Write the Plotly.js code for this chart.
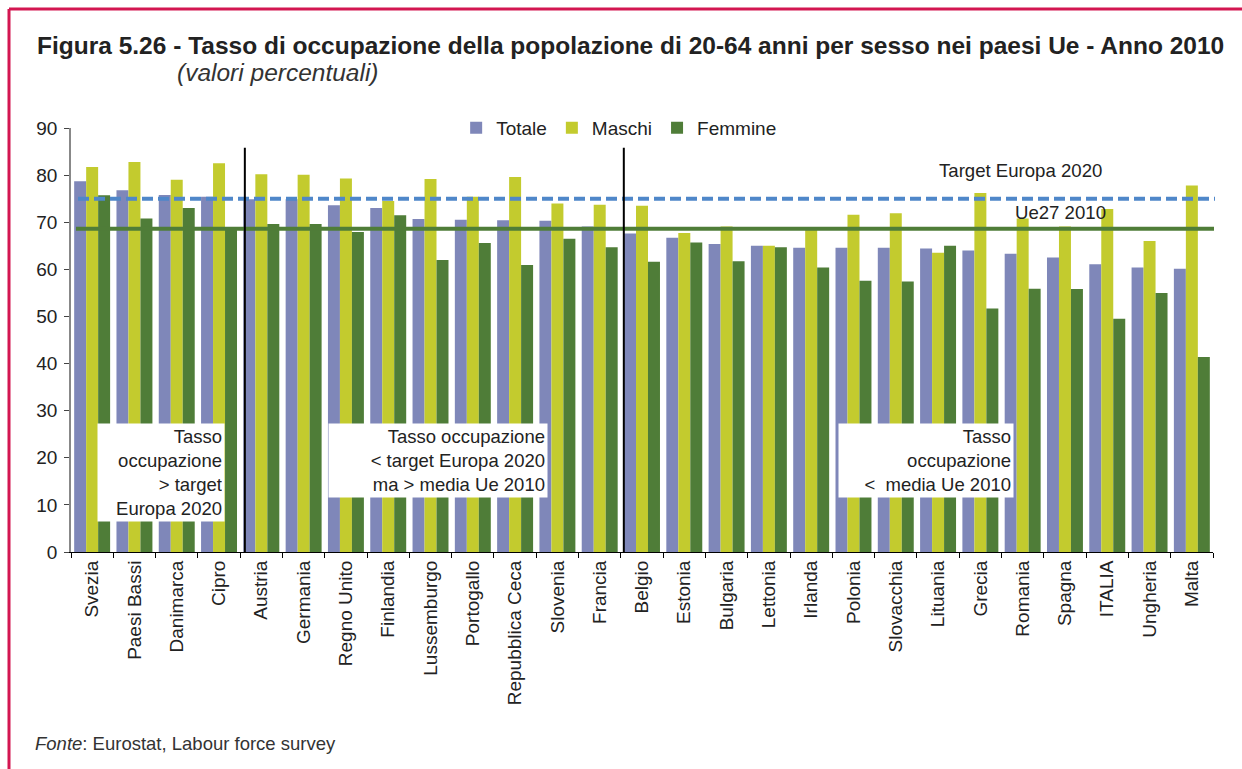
<!DOCTYPE html>
<html>
<head>
<meta charset="utf-8">
<script src="https://cdn.plot.ly/plotly-3.0.1.min.js"></script>
<style>
  html, body { margin: 0; padding: 0; background: #fff; }
  #chart { width: 1242px; height: 769px; }
</style>
</head>
<body>
<div id="chart"></div>
<script>
const countries = ['Svezia','Paesi Bassi','Danimarca','Cipro','Austria','Germania','Regno Unito','Finlandia','Lussemburgo','Portogallo','Repubblica Ceca','Slovenia','Francia','Belgio','Estonia','Bulgaria','Lettonia','Irlanda','Polonia','Slovacchia','Lituania','Grecia','Romania','Spagna','ITALIA','Ungheria','Malta'];
const totale  = [78.7, 76.8, 75.8, 75.4, 74.9, 74.9, 73.6, 73.0, 70.7, 70.5, 70.4, 70.3, 69.1, 67.6, 66.7, 65.4, 65.0, 64.6, 64.6, 64.6, 64.4, 64.0, 63.3, 62.5, 61.1, 60.4, 60.1];
const maschi  = [81.7, 82.8, 79.0, 82.5, 80.2, 80.1, 79.3, 74.5, 79.2, 75.4, 79.6, 74.0, 73.7, 73.5, 67.7, 69.1, 65.0, 69.0, 71.6, 71.9, 63.5, 76.2, 70.8, 69.1, 72.8, 66.0, 77.8];
const femmine = [75.7, 70.8, 73.0, 68.8, 69.6, 69.6, 67.9, 71.5, 62.0, 65.6, 60.9, 66.5, 64.7, 61.6, 65.7, 61.7, 64.7, 60.4, 57.6, 57.4, 65.0, 51.7, 55.9, 55.8, 49.5, 55.0, 41.4];
const seriesNames = ['Totale', 'Maschi', 'Femmine'];
const targetEuropa2020 = 75;
const ue27_2010 = 68.6;

const FONT = 'Liberation Sans, Arial, sans-serif';
const colors = ['#7f87b9', '#c3cb2e', '#4f7d38'];

const traces = [totale, maschi, femmine].map((vals, i) => ({
  type: 'bar',
  name: seriesNames[i],
  x: countries,
  y: vals,
  marker: { color: colors[i], line: { width: 0 } }
}));

// pixel helpers for paper coordinates (plot area: x 71..1213, y 128..552)
const px = v => (v - 71) / 1142;
const py = v => (552 - v) / 424;

const layout = {
  width: 1242,
  height: 769,
  margin: { l: 71, r: 29, t: 128, b: 217 },
  paper_bgcolor: '#ffffff',
  plot_bgcolor: '#ffffff',
  font: { family: FONT, size: 19, color: '#222' },
  barmode: 'group',
  bargap: 0.15,
  bargroupgap: 0,
  showlegend: true,
  legend: {
    orientation: 'h',
    x: 0.48, xanchor: 'center',
    y: 1.0, yanchor: 'middle',
    bgcolor: 'rgba(0,0,0,0)',
    font: { family: FONT, size: 19, color: '#222' },
    itemwidth: 30,
    traceorder: 'normal'
  },
  xaxis: {
    type: 'category',
    tickangle: -90,
    ticks: 'outside',
    tickson: 'boundaries',
    ticklen: 5,
    tickcolor: '#000',
    showline: true,
    linecolor: '#000',
    linewidth: 1,
    showgrid: false,
    tickfont: { family: FONT, size: 19, color: '#222' },
    range: [-0.5, 26.5]
  },
  yaxis: {
    range: [0, 90],
    dtick: 10,
    ticks: 'outside',
    ticklen: 5,
    tickcolor: '#444',
    ticklabelstandoff: 3,
    showline: true,
    linecolor: '#888',
    linewidth: 1.5,
    showgrid: false,
    zeroline: false,
    tickfont: { family: FONT, size: 19, color: '#222' }
  },
  shapes: [
    // frame
    { type: 'line', xref: 'paper', yref: 'paper', x0: px(9), x1: px(1242), y0: py(9), y1: py(9), line: { color: '#d31651', width: 3 } },
    { type: 'line', xref: 'paper', yref: 'paper', x0: px(9), x1: px(9), y0: py(9), y1: py(769), line: { color: '#d31651', width: 3 } },
    // reference lines
    { type: 'line', xref: 'paper', yref: 'y', x0: px(78), x1: px(1215), y0: targetEuropa2020, y1: targetEuropa2020, line: { color: '#4f87c9', width: 4, dash: '11px,5px' } },
    { type: 'line', xref: 'paper', yref: 'y', x0: px(76), x1: px(1214), y0: ue27_2010, y1: ue27_2010, line: { color: '#4f7d38', width: 4 } },
    // group separators
    { type: 'line', xref: 'x', yref: 'y', x0: 3.61, x1: 3.61, y0: 0, y1: 85.8, line: { color: '#000', width: 2 } },
    { type: 'line', xref: 'x', yref: 'y', x0: 12.57, x1: 12.57, y0: 0, y1: 85.8, line: { color: '#000', width: 2 } }
  ],
  annotations: [
    { xref: 'paper', yref: 'paper', x: px(35), y: py(45), xanchor: 'left', yanchor: 'middle', showarrow: false,
      text: '<b>Figura 5.26 - Tasso di occupazione della popolazione di 20-64 anni per sesso nei paesi Ue - Anno 2010</b>',
      font: { family: FONT, size: 24.5, color: '#222' } },
    { xref: 'paper', yref: 'paper', x: px(175), y: py(73), xanchor: 'left', yanchor: 'middle', showarrow: false,
      text: '<i>(valori percentuali)</i>',
      font: { family: FONT, size: 24.5, color: '#333' } },
    { xref: 'paper', yref: 'paper', x: px(33), y: py(743), xanchor: 'left', yanchor: 'middle', showarrow: false,
      text: '<i>Fonte</i>: Eurostat, Labour force survey',
      font: { family: FONT, size: 18.5, color: '#333' } },
    { xref: 'paper', yref: 'paper', x: px(937), y: py(171), xanchor: 'left', yanchor: 'middle', showarrow: false,
      text: 'Target Europa 2020', font: { family: FONT, size: 18.6, color: '#222' } },
    { xref: 'paper', yref: 'paper', x: px(1013), y: py(212), xanchor: 'left', yanchor: 'middle', showarrow: false,
      text: 'Ue27 2010', font: { family: FONT, size: 18.6, color: '#222' } },
    // region boxes
    { xref: 'paper', yref: 'paper', x: px(225), y: py(423), xanchor: 'right', yanchor: 'top', showarrow: false,
      text: 'Tasso<br>occupazione<br>> target<br>Europa 2020', align: 'right', width: 122, borderpad: 2,
      bgcolor: '#ffffff', font: { family: FONT, size: 18.5, color: '#222' } },
    { xref: 'paper', yref: 'paper', x: px(548), y: py(423), xanchor: 'right', yanchor: 'top', showarrow: false,
      text: 'Tasso occupazione<br>< target Europa 2020<br>ma > media Ue 2010', align: 'right', width: 214, borderpad: 2,
      bgcolor: '#ffffff', font: { family: FONT, size: 18.5, color: '#222' } },
    { xref: 'paper', yref: 'paper', x: px(1014), y: py(423), xanchor: 'right', yanchor: 'top', showarrow: false,
      text: 'Tasso<br>occupazione<br><  media Ue 2010', align: 'right', width: 170, borderpad: 2,
      bgcolor: '#ffffff', font: { family: FONT, size: 18.5, color: '#222' } }
  ]
};

Plotly.newPlot('chart', traces, layout, { displayModeBar: false, responsive: false });
</script>
</body>
</html>
